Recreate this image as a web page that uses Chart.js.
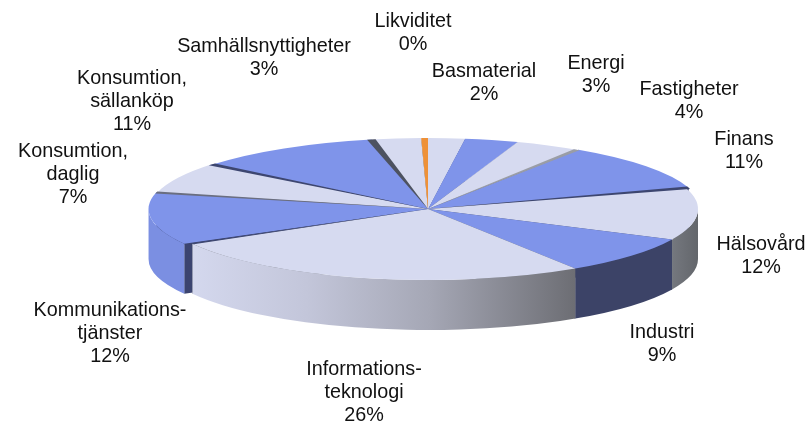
<!DOCTYPE html>
<html><head><meta charset="utf-8">
<script src="https://cdn.jsdelivr.net/npm/chart.js@4/dist/chart.umd.min.js"></script>
<style>html,body{margin:0;padding:0;background:#fff}canvas{display:block}</style>
</head><body><canvas id="c" width="808" height="423"></canvas>
<script>
const categories=[["Basmaterial"],["Energi"],["Fastigheter"],["Finans"],["Hälsovård"],["Industri"],["Informations-","teknologi"],["Kommunikations-","tjänster"],["Konsumtion,","daglig"],["Konsumtion,","sällanköp"],["Samhällsnyttigheter"],["Likviditet"]];
const shares=[2.2,3.2,3.9,10.9,11.9,8.8,26.1,11.9,7.1,10.9,2.9,0.4];
const shown=[2,3,4,11,12,9,26,12,7,11,3,0];
const labelSpots=[[484,72],[596,64],[689,90],[744,140],[761,245],[662,333],[364,370],[110,311],[73,152],[132,79],[264,47],[413,22]];
const topColors=["#d6daf0","#7f94ea","#d6daf0","#7f94ea","#d6daf0","#7f94ea","#d6daf0","#7f94ea","#d6daf0","#7f94ea","#d6daf0","#ee9138"];
const faceColors=["#8a8d9a","#3d4670","#8a8d9a","#3d4670","#6f7277","#3d4468","#6f7277","#3b4470","#6f7277","#3d4670","#5c6068","#a8621f"];
const rimScale=[1,1,1,1.012,1,1,1,1.035,1.03,1.022,1.02,1];
const seams=[[2,"#9a9da6",0.35],[3,"#3d4670",0.5],[7,"#6a6e80",0.45],[8,"#3d4670",0.5],[9,"#4d5260",0.45],[6,"#3d4670",0.25]];
const apexX=428,apexY=209,radX=270,radY=71,depth=50;

function wallFill(ctx,i){
  if(i===6){const g=ctx.createLinearGradient(190,0,577,0);
    g.addColorStop(0,"#d4d8ee");g.addColorStop(.3,"#c3c6da");g.addColorStop(.62,"#a5a7b5");g.addColorStop(1,"#6c6d73");return g;}
  if(i===7)return "#7b8fe2";
  if(i===5)return "#3c4367";
  if(i===4){const g=ctx.createLinearGradient(670,0,698,0);g.addColorStop(0,"#767980");g.addColorStop(1,"#63666b");return g;}
  return faceColors[i];
}
const pie3d={id:"pie3d",
  beforeDatasetDraw(){return false;},
  afterDatasetsDraw(chart){
    const ctx=chart.ctx,arcs=chart.getDatasetMeta(0).data;
    const R=arcs[0].outerRadius,TAU=2*Math.PI;
    const order=arcs.map((a,i)=>i).sort((p,q)=>{
      const m=a=>Math.sin((a.startAngle+a.endAngle)/2);return m(arcs[p])-m(arcs[q]);});
    ctx.save();
    order.forEach(i=>{
      const a=arcs[i],k=rimScale[i],rx=radX*k;
      [a.startAngle,a.endAngle].forEach(t=>{
        const x=apexX+rx*Math.cos(t),y=apexY+radY*Math.sin(t);
        ctx.beginPath();ctx.moveTo(apexX,apexY);ctx.lineTo(x,y);ctx.lineTo(x,y+depth);ctx.lineTo(apexX,apexY+depth);ctx.closePath();
        ctx.fillStyle=faceColors[i];ctx.fill();
      });
    });
    order.forEach(i=>{
      const a=arcs[i],rx=radX*rimScale[i];
      // outer wall, visible part only (canvas angles 0..PI face the viewer)
      let ns=a.startAngle%TAU;if(ns<0)ns+=TAU;
      let ne=ns+(a.endAngle-a.startAngle);
      let lo,hi;
      if(ne>TAU){lo=0;hi=Math.min(ne-TAU,Math.PI);}
      else{lo=ns;hi=Math.min(ne,Math.PI);}
      if(hi>lo){
        ctx.beginPath();ctx.ellipse(apexX,apexY,rx,radY,0,lo,hi);
        ctx.ellipse(apexX,apexY+depth,rx,radY,0,hi,lo,true);ctx.closePath();
        ctx.fillStyle=wallFill(ctx,i);ctx.fill();
      }
    });
    arcs.forEach((a,i)=>{
      ctx.save();
      ctx.translate(apexX,apexY);ctx.scale(radX*rimScale[i]/R,radY/R);ctx.translate(-a.x,-a.y);
      a.draw(ctx);ctx.restore();
    });
    seams.forEach(([i,col,w])=>{
      const t=arcs[i].endAngle,d=w*Math.PI/180*2,rx=radX*rimScale[i];
      ctx.beginPath();ctx.moveTo(apexX,apexY);
      ctx.lineTo(apexX+rx*Math.cos(t-d),apexY+radY*Math.sin(t-d));
      ctx.lineTo(apexX+rx*Math.cos(t+d),apexY+radY*Math.sin(t+d));
      ctx.closePath();ctx.fillStyle=col;ctx.fill();
    });
    ctx.fillStyle="#111";ctx.font='19.8px "Liberation Sans"';ctx.textAlign="center";ctx.textBaseline="middle";
    categories.forEach((lines,i)=>{
      const [x,y]=labelSpots[i];
      [...lines,shown[i]+"%"].forEach((s,j)=>ctx.fillText(s,x,y+j*23));
    });
    ctx.restore();
  }};
new Chart(document.getElementById("c"),{type:"pie",
  data:{labels:categories.map(c=>c.join(" ")),datasets:[{data:shares,backgroundColor:topColors,borderWidth:0}]},
  options:{responsive:false,animation:false,events:[],layout:{padding:0},plugins:{legend:{display:false},tooltip:{enabled:false}}},
  plugins:[pie3d]});
</script></body></html>
